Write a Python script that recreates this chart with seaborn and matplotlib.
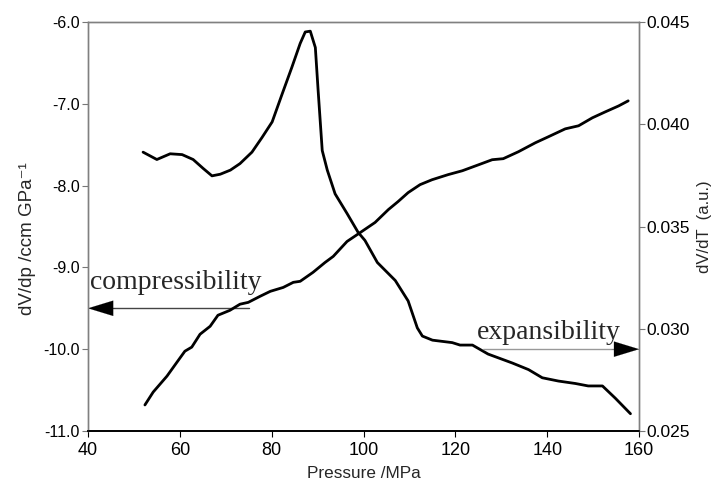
import numpy as np
import pandas as pd
import matplotlib
matplotlib.use('Agg')
import matplotlib.pyplot as plt
import seaborn as sns

# dV/dp (compressibility), left axis
p_comp = [52.0, 55.0, 57.9, 60.5, 62.9, 65.1, 67.0, 68.8, 71.0, 73.1, 75.7, 77.9,
          80.1, 82.2, 84.4, 86.2, 87.3, 88.4, 89.5, 90.1, 91.0, 92.1, 93.8, 96.4,
          98.8, 100.3, 103.0, 106.9, 109.7, 111.7, 112.8, 115.0, 119.3, 121.0,
          123.7, 127.1, 132.4, 135.9, 138.9, 142.4, 146.1, 148.9, 152.0, 154.8, 158.1]
dvdp = [-7.59, -7.68, -7.61, -7.62, -7.68, -7.79, -7.88, -7.86, -7.81, -7.73, -7.59, -7.41,
        -7.22, -6.89, -6.55, -6.26, -6.12, -6.11, -6.31, -6.83, -7.57, -7.81, -8.10, -8.34,
        -8.57, -8.67, -8.94, -9.16, -9.41, -9.74, -9.84, -9.89, -9.92, -9.95,
        -9.95, -10.06, -10.17, -10.25, -10.35, -10.39, -10.42, -10.45, -10.45, -10.60, -10.79]

# dV/dT (expansibility), right axis
p_exp = [52.4, 54.2, 57.2, 59.4, 61.1, 62.6, 64.4, 66.6, 68.3, 70.9, 73.1, 74.9, 77.5,
         79.7, 82.5, 84.7, 86.2, 89.0, 91.6, 93.4, 96.4, 99.3, 102.5, 105.4, 107.5,
         109.7, 112.3, 114.9, 118.4, 121.5, 125.0, 128.0, 130.4, 133.7, 137.4, 140.2,
         143.9, 146.8, 149.8, 152.6, 155.5, 157.6]
dvdt = [0.02627, 0.02690, 0.02768, 0.02837, 0.02890, 0.02910, 0.02973, 0.03012, 0.03066,
        0.03090, 0.03120, 0.03129, 0.03159, 0.03183, 0.03202, 0.03227, 0.03232, 0.03276,
        0.03324, 0.03354, 0.03427, 0.03471, 0.03520, 0.03583, 0.03622, 0.03666, 0.03705,
        0.03729, 0.03754, 0.03773, 0.03802, 0.03827, 0.03832, 0.03866, 0.03910, 0.03939,
        0.03978, 0.03993, 0.04032, 0.04061, 0.04090, 0.04115]

left_ticks = [-11.0, -10.0, -9.0, -8.0, -7.0, -6.0]
right_ticks = [0.025, 0.030, 0.035, 0.040, 0.045]
x_ticks = [40, 60, 80, 100, 120, 140, 160]

sns.set_style('white')
plt.rcParams['font.family'] = ['Liberation Sans', 'DejaVu Sans']

fig = plt.figure(figsize=(7.15, 4.82), dpi=100)
ax = fig.add_axes([0.123, 0.106, 0.771, 0.848])
ax2 = ax.twinx()

sns.lineplot(x=p_comp, y=dvdp, ax=ax, color='black', lw=2, sort=False)
sns.lineplot(x=p_exp, y=dvdt, ax=ax2, color='black', lw=2, sort=False)

ax.set_xlim(40, 160)
ax.set_ylim(-11, -6)
ax2.set_ylim(0.025, 0.045)
ax.set_xticks(x_ticks)
ax.set_yticks(left_ticks)
ax.set_yticklabels(['%.1f' % v for v in left_ticks], fontsize=11.5)
ax2.set_yticks(right_ticks)
ax2.set_yticklabels(['%.3f' % v for v in right_ticks], fontsize=12.5)
ax.tick_params(axis='x', labelsize=13, direction='out', length=4, width=0.8,
               colors='black', bottom=True, pad=4)
ax.tick_params(axis='y', direction='out', length=4, width=0.8, left=True,
               color='#777777', labelcolor='black', pad=2)
ax2.tick_params(axis='y', direction='out', length=4, width=0.8, right=True,
                color='#777777', labelcolor='black', pad=1)

for a in (ax, ax2):
    for s in ['left', 'right', 'top']:
        a.spines[s].set_color('#808080')
        a.spines[s].set_linewidth(1)
    a.spines['bottom'].set_color('black')
    a.spines['bottom'].set_linewidth(1.2)

ax.set_xlabel('Pressure /MPa', fontsize=12.3, labelpad=5)
ax.set_ylabel('dV/dp /ccm GPa⁻¹', fontsize=13.5, labelpad=5)
ax.yaxis.set_label_coords(-0.095, 0.47)
ax2.set_ylabel('dV/dT  (a.u.)', fontsize=12, labelpad=5)

# arrows and labels (left-axis coordinates)
ax.plot([75, 41], [-9.5, -9.5], color='#444444', lw=1)
ax.annotate('', xy=(40, -9.5), xytext=(46, -9.5),
            arrowprops=dict(arrowstyle='-|>,head_length=1.8,head_width=0.55',
                            color='black', lw=0.1, shrinkA=0, shrinkB=0))
ax.plot([126, 159], [-10.0, -10.0], color='#999999', lw=1)
ax.annotate('', xy=(160, -10.0), xytext=(154, -10.0),
            arrowprops=dict(arrowstyle='-|>,head_length=1.8,head_width=0.55',
                            color='black', lw=0.1, shrinkA=0, shrinkB=0))
ax.text(40.4, -9.26, 'compressibility', family='Liberation Serif', fontsize=20,
        va='baseline', ha='left')
ax.text(124.7, -9.87, 'expansibility', family='Liberation Serif', fontsize=20,
        va='baseline', ha='left')

fig.savefig('out.png', dpi=100)
